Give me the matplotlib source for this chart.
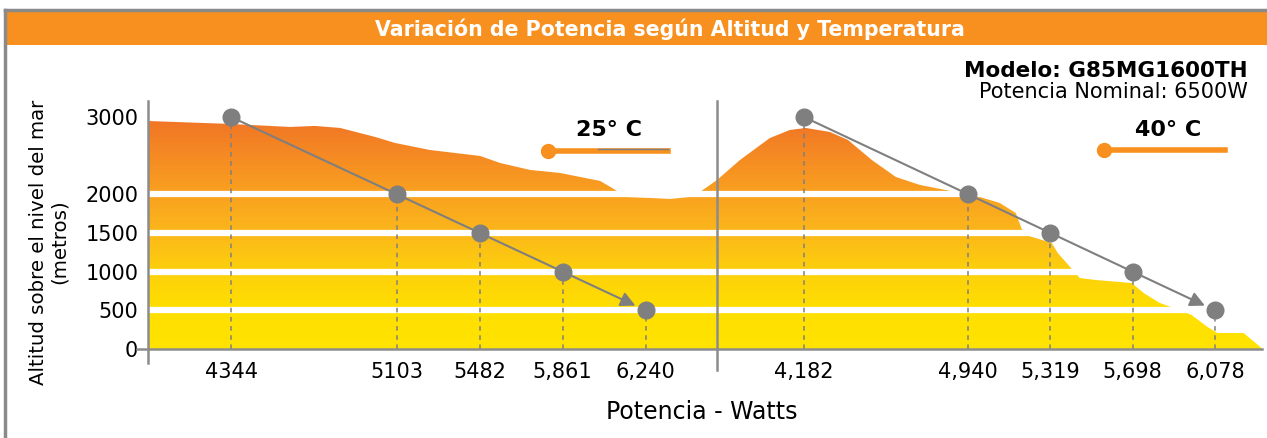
import matplotlib.pyplot as plt
import numpy as np
from matplotlib.lines import Line2D
from matplotlib.patches import Rectangle
from matplotlib.colors import LinearSegmentedColormap

plt.rcParams['font.family'] = ['DejaVu Sans']

# Data points: altitude vs power at each temperature
altitudes = [3000, 2000, 1500, 1000, 500]
power_25 = [4344, 5103, 5482, 5861, 6240]
power_40 = [4182, 4940, 5319, 5698, 6078]
labels_25 = ['4344', '5103', '5482', '5,861', '6,240']
labels_40 = ['4,182', '4,940', '5,319', '5,698', '6,078']
y_ticks = [0, 500, 1000, 1500, 2000, 3000]
grid_alts = [500, 1000, 1500, 2000]

# Decorative terrain outline behind the data (watts, altitude)
terrain_25_w = [3964, 4339, 4614, 4728, 4843, 5003, 5094, 5254, 5483, 5575,
                5712, 5849, 6032, 6087, 6124, 6146, 6261, 6352, 6444, 6489, 6567]
terrain_25_alt = [2948, 2910, 2871, 2884, 2858, 2742, 2664, 2573, 2496, 2405,
                  2315, 2276, 2173, 2082, 2017, 1966, 1953, 1940, 1966, 2030, 2185]
terrain_40_w = [3781, 3887, 4025, 4117, 4191, 4302, 4385, 4495, 4606, 4717,
                4882, 4993, 5085, 5159, 5187, 5205, 5325, 5353, 5426, 5454,
                5528, 5694, 5749, 5823, 5915, 5970, 6044, 6090, 6210, 6293]
terrain_40_alt = [2185, 2444, 2728, 2832, 2858, 2806, 2703, 2444, 2224, 2121,
                  2030, 1966, 1888, 1759, 1552, 1474, 1371, 1241, 1009, 918,
                  892, 853, 724, 595, 504, 440, 284, 207, 207, 13]

W, H = 1267, 438
GRAY = '#7f7f7f'
ORANGE = '#f7901e'


def fx(x):
    return x / W


def fy(y):
    return 1 - y / H


fig = plt.figure(figsize=(W / 100, H / 100), dpi=100)

# Frame and header band
fig.add_artist(Line2D([fx(5), fx(5)], [fy(10), fy(440)], color='#8a8a8a', lw=2.5))
fig.add_artist(Line2D([fx(5), fx(1270)], [fy(10), fy(10)], color='#8a8a8a', lw=2.5))
fig.add_artist(Rectangle((fx(7), fy(45)), 1, (45 - 12) / H, transform=fig.transFigure,
                         facecolor=ORANGE, edgecolor='none'))
fig.text(fx(670), fy(29), 'Variación de Potencia según Altitud y Temperatura',
         color='white', fontsize=14.8, fontweight='bold', ha='center', va='center')

# Gradient colours by altitude
grad = LinearSegmentedColormap.from_list('terrain', [
    (0.0, '#ffe300'), (500 / 3000, '#ffdf00'), (1000 / 3000, '#fdd00c'),
    (1500 / 3000, '#fbb71a'), (2000 / 3000, '#f9a120'), (2500 / 3000, '#f58a23'),
    (1.0, '#f07326')])

ymax = 3310
bottom = (H - 349) / H
height = 256 / H
ax1 = fig.add_axes([fx(148), bottom, fx(717 - 148), height])
ax2 = fig.add_axes([fx(717), bottom, fx(1262 - 717), height])

panels = [
    (ax1, power_25, labels_25, terrain_25_w, terrain_25_alt, (3964, 6567)),
    (ax2, power_40, labels_40, terrain_40_w, terrain_40_alt, (3781, 6295)),
]

for ax, watts, labels, tw, ta, xlim in panels:
    ax.set_xlim(*xlim)
    ax.set_ylim(0, ymax)
    ax.set_facecolor('none')
    for s in ax.spines.values():
        s.set_visible(False)

    # terrain gradient clipped to outline
    poly = ax.fill(tw + [tw[-1], tw[0]], ta + [0, 0], facecolor='none', edgecolor='none')[0]
    g = np.linspace(0, 1, 256).reshape(-1, 1)
    im = ax.imshow(g, cmap=grad, origin='lower', aspect='auto',
                   extent=[xlim[0], xlim[1], 0, 3000], zorder=1)
    im.set_clip_path(poly)

    for a in grid_alts:
        ax.axhline(a, color='white', lw=4.5, zorder=2)

    ax.vlines(watts, 0, altitudes, colors=GRAY, linestyles=(0, (3, 3)), lw=1.1, zorder=3)
    ax.plot(watts[:-1], altitudes[:-1], color=GRAY, lw=1.5, zorder=4)
    ax.annotate('', xy=(watts[-1], altitudes[-1]), xytext=(watts[-2], altitudes[-2]),
                arrowprops=dict(arrowstyle='-|>', color=GRAY, lw=1.5, shrinkA=0,
                                shrinkB=8, mutation_scale=22), zorder=4)
    ax.plot(watts, altitudes, 'o', color=GRAY, ms=12, zorder=5)

    ax.set_xticks(watts)
    ax.set_xticklabels(labels, fontsize=15)
    ax.tick_params(axis='x', length=0, pad=9)

ax1.set_yticks(y_ticks)
ax1.set_yticklabels([str(v) for v in y_ticks], fontsize=15)
ax1.tick_params(axis='y', length=0, pad=7)
ax2.set_yticks([])

# Axis lines
fig.add_artist(Line2D([fx(137), fx(1262)], [fy(349), fy(349)], color='#8c8c8c', lw=1.8))
fig.add_artist(Line2D([fx(148), fx(148)], [fy(101), fy(363)], color='#8c8c8c', lw=1.8))
fig.add_artist(Line2D([fx(717), fx(717)], [fy(101), fy(370)], color='#8c8c8c', lw=1.8))

# Temperature markers
for x0, x1, y, txt, tx in [(548, 668, 151, '25° C', 609), (1104, 1225, 150, '40° C', 1168)]:
    fig.add_artist(Line2D([fx(x0), fx(x1)], [fy(y), fy(y)], color=ORANGE, lw=4))
    fig.add_artist(Line2D([fx(x0)], [fy(y)], marker='o', ms=10, color=ORANGE))
    fig.text(fx(tx), fy(130), txt, fontsize=16, fontweight='bold', ha='center', va='center')
fig.add_artist(Line2D([fx(598), fx(668)], [fy(149), fy(149)], color=GRAY, lw=1))

# Model info
fig.text(fx(1248), fy(71), 'Modelo: G85MG1600TH', fontsize=15.5, fontweight='bold',
         ha='right', va='center')
fig.text(fx(1248), fy(92), 'Potencia Nominal: 6500W', fontsize=15, ha='right', va='center')

# Axis titles
fig.text(fx(49), fy(242), 'Altitud sobre el nivel del mar\n(metros)', rotation=90,
         fontsize=14.2, ha='center', va='center', multialignment='center', linespacing=1.1)
fig.text(fx(702), fy(412), 'Potencia - Watts', fontsize=17, ha='center', va='center')

fig.savefig('out.png', dpi=100)
